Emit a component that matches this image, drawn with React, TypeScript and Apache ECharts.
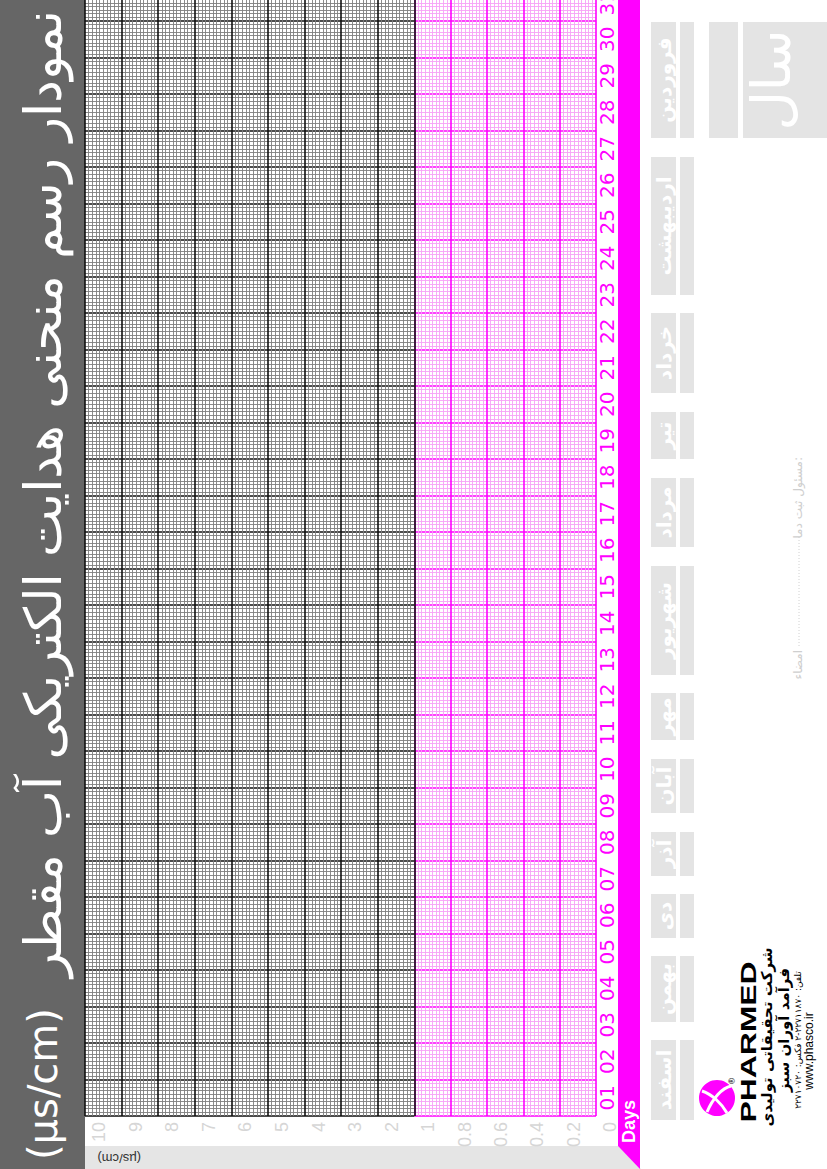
import React, { useEffect, useRef } from "react";
import * as echarts from "echarts";

// ---- data ----
const DAYS = ["01","02","03","04","05","06","07","08","09","10","11","12","13","14","15","16","17","18","19","20","21","22","23","24","25","26","27","28","29","30","31"];
const HIGH_RANGE_TICKS = ["1","2","3","4","5","6","7","8","9","10"]; // value axis 1..10
const LOW_RANGE_TICKS = ["0","0.2","0.4","0.6","0.8"]; // value axis 0..1
const MONTHS = ["فروردین","اردیبهشت","خرداد","تیر","مرداد","شهریور","مهر","آبان","آذر","دی","بهمن","اسفند"];
const TITLE = "نمودار رسم منحنی هدایت الکتریکی آب مقطر";
const UNIT = "(µs/cm)";
const YEAR_LABEL = "سال";
const AXIS_NAME = "Days";
const COMPANY = ["PHARMED","شرکت تحقیقاتی تولیدی","فرآمد آوران سبز","تلفن: ۲۲۷۱۱۸۷۰-۲ فکس: ۲۲۷۱۰۷۲۰","www.phasco.ir"];
const SIGN_TEXTS = ["مسئول ثبت دما:","امضاء"];

// ---- layout (pixels) ----
const W = 827, H = 1169;
const MONTH_BOX_Y: [number, number][] = [
  [22,138],[157,295],[313,393],[412,459],[478,547],[566,675],
  [693,740],[759,813],[832,876],[894,938],[956,1022],[1040,1120],
];

const MAGENTA = "#ff00ff";

function buildOption() {
  const R = Math.PI / 2;
  const graphic: any[] = [];
  // left title strip
  graphic.push({ type: "rect", shape: { x: 0, y: 0, width: 85, height: H }, style: { fill: "#666666" }, silent: true });
  graphic.push({ type: "text", x: 43, y: 10, rotation: R, style: { text: TITLE, fill: "#ffffff", font: "51px 'DejaVu Sans'", align: "right", verticalAlign: "middle" } });
  graphic.push({ type: "text", x: 43, y: 1160, rotation: R, style: { text: UNIT, fill: "#ffffff", font: "40px 'DejaVu Sans'", align: "left", verticalAlign: "middle" } });
  // bottom gray band
  graphic.push({ type: "polygon", shape: { points: [[85,1146],[618,1146],[641,1169],[85,1169]] }, style: { fill: "#e5e5e5" }, silent: true });
  graphic.push({ type: "text", x: 141, y: 1158, rotation: Math.PI, style: { text: UNIT, fill: "#333333", font: "13px 'Liberation Sans'", align: "left", verticalAlign: "middle" } });
  // magenta strip
  graphic.push({ type: "polygon", shape: { points: [[618,0],[640,0],[640,1169],[618,1146]] }, style: { fill: MAGENTA }, silent: true });
  graphic.push({ type: "text", x: 629, y: 1143, rotation: R, style: { text: AXIS_NAME, fill: "#ffffff", font: "bold 18px 'Liberation Sans'", align: "left", verticalAlign: "middle" } });
  // month boxes
  MONTHS.forEach((m, i) => {
    const [y0, y1] = MONTH_BOX_Y[i];
    graphic.push({ type: "rect", shape: { x: 651, y: y0, width: 25, height: y1 - y0 }, style: { fill: "#e4e4e4" }, silent: true });
    graphic.push({ type: "rect", shape: { x: 680, y: y0, width: 14, height: y1 - y0 }, style: { fill: "#e4e4e4" }, silent: true });
    graphic.push({ type: "text", x: 664, y: (y0 + y1) / 2, rotation: R, style: { text: m, fill: "#ffffff", font: "bold 20px 'DejaVu Sans'", align: "center", verticalAlign: "middle" } });
  });
  // year boxes
  graphic.push({ type: "rect", shape: { x: 709, y: 22, width: 29, height: 116 }, style: { fill: "#e4e4e4" }, silent: true });
  graphic.push({ type: "rect", shape: { x: 743, y: 22, width: 90, height: 116 }, style: { fill: "#e4e4e4" }, silent: true });
  graphic.push({ type: "text", x: 771, y: 80, rotation: R, style: { text: YEAR_LABEL, fill: "#ffffff", font: "54px 'DejaVu Sans'", align: "center", verticalAlign: "middle" } });
  // signature line
  graphic.push({ type: "text", x: 798, y: 457, rotation: R, style: { text: SIGN_TEXTS[0], fill: "#cfcfcf", font: "12px 'DejaVu Sans'", align: "right", verticalAlign: "middle" } });
  graphic.push({ type: "line", shape: { x1: 799, y1: 537, x2: 799, y2: 646 }, style: { stroke: "#d0d0d0", lineWidth: 1, lineDash: [1, 2] } });
  graphic.push({ type: "text", x: 798, y: 650, rotation: R, style: { text: SIGN_TEXTS[1], fill: "#cfcfcf", font: "12px 'DejaVu Sans'", align: "right", verticalAlign: "middle" } });
  // logo
  graphic.push({ type: "circle", shape: { cx: 717, cy: 1098, r: 18 }, style: { fill: MAGENTA } });
  graphic.push({ type: "bezierCurve", shape: { x1: 702, y1: 1091, cpx1: 712, cpy1: 1094, cpx2: 722, cpy2: 1104, x2: 727, y2: 1113 }, style: { stroke: "#ffffff", lineWidth: 3, fill: "none" } });
  graphic.push({ type: "bezierCurve", shape: { x1: 707, y1: 1112, cpx1: 713, cpy1: 1098, cpx2: 722, cpy2: 1088, x2: 731, y2: 1086 }, style: { stroke: "#ffffff", lineWidth: 3, fill: "none" } });
  graphic.push({ type: "text", x: 732, y: 1081, rotation: R, style: { text: "®", fill: "#222222", font: "8px 'DejaVu Sans'", align: "center", verticalAlign: "middle" } });
  graphic.push({ type: "text", x: 748, y: 1042, rotation: R, scaleX: 1.45, style: { text: COMPANY[0], fill: "#000000", font: "bold 22px 'Liberation Sans'", align: "center", verticalAlign: "middle" } });
  graphic.push({ type: "text", x: 767, y: 1037, rotation: R, style: { text: COMPANY[1], fill: "#000000", font: "bold 15px 'DejaVu Sans'", align: "center", verticalAlign: "middle" } });
  graphic.push({ type: "text", x: 784, y: 1030, rotation: R, style: { text: COMPANY[2], fill: "#000000", font: "bold 15px 'DejaVu Sans'", align: "center", verticalAlign: "middle" } });
  graphic.push({ type: "text", x: 798, y: 1040, rotation: R, style: { text: COMPANY[3], fill: "#000000", font: "9px 'DejaVu Sans'", align: "center", verticalAlign: "middle" } });
  graphic.push({ type: "text", x: 809, y: 1051, rotation: R, style: { text: COMPANY[4], fill: "#000000", font: "12px 'Liberation Sans'", align: "center", verticalAlign: "middle" } });

  const valueLabel = {
    show: true, rotate: 90, margin: 6, color: "#d6d6d6", fontSize: 18,
    fontFamily: "'Liberation Sans Narrow', 'Liberation Sans', sans-serif",
    verticalAlign: "top", padding: [5, 0, 0, 0],
  };
  const gridBase = { top: -15.5, bottom: 53, containLabel: false, outerBoundsMode: "none" };
  const yValue = (gridIndex: number, major: string, minor: string, z: number) => ({
    type: "value", gridIndex, min: 0, max: DAYS.length, interval: 1, z,
    axisLine: { show: false }, axisTick: { show: false }, axisLabel: { show: false },
    splitLine: { show: true, lineStyle: { color: major, width: 1.6 } },
    minorTick: { show: false, splitNumber: 10 },
    minorSplitLine: { show: true, lineStyle: { color: minor, width: 0.9 } },
  });

  return {
    animation: false,
    backgroundColor: "#ffffff",
    graphic,
    grid: [
      { ...gridBase, left: 85, right: W - 414.3 },
      { ...gridBase, left: 414.3, right: W - 596 },
    ],
    xAxis: [
      {
        type: "value", gridIndex: 0, min: 1, max: 10, interval: 1, inverse: true, z: 6,
        axisLine: { show: false }, axisTick: { show: false },
        axisLabel: { ...valueLabel, formatter: (v: number) => HIGH_RANGE_TICKS[Math.round(v) - 1] },
        splitLine: { show: true, lineStyle: { color: "#111111", width: 1.6 } },
        minorTick: { show: false, splitNumber: 10 },
        minorSplitLine: { show: true, lineStyle: { color: "#7e7e7e", width: 0.9 } },
      },
      {
        type: "value", gridIndex: 1, min: 0, max: 1, interval: 0.2, inverse: true, z: 2,
        axisLine: { show: false }, axisTick: { show: false },
        axisLabel: { ...valueLabel, formatter: (v: number) => { const i = Math.round(v * 5); return i < 5 ? LOW_RANGE_TICKS[i] : ""; } },
        splitLine: { show: true, lineStyle: { color: MAGENTA, width: 1.6 } },
        minorTick: { show: false, splitNumber: 10 },
        minorSplitLine: { show: true, lineStyle: { color: "#f6a2f6", width: 0.9 } },
      },
    ],
    yAxis: [
      yValue(0, "#111111", "#7e7e7e", 6),
      yValue(1, MAGENTA, "#f6a2f6", 2),
      {
        type: "category", gridIndex: 1, position: "right", data: DAYS, z: 3,
        axisLine: { show: false }, axisTick: { show: false }, splitLine: { show: false },
        axisLabel: { show: true, interval: 0, rotate: 90, margin: 1, color: MAGENTA, fontSize: 20, fontFamily: "'DejaVu Sans'", align: "center", verticalAlign: "top" },
      },
    ],
    series: [],
  };
}

export default function App() {
  const ref = useRef<HTMLDivElement>(null);
  useEffect(() => {
    document.body.style.margin = "0";
    if (!ref.current) return;
    const chart = echarts.init(ref.current, null, { renderer: "svg", width: W, height: H });
    chart.setOption(buildOption() as any);
    return () => chart.dispose();
  }, []);
  return <div ref={ref} style={{ width: W, height: H, position: "absolute", left: 0, top: 0 }} />;
}
